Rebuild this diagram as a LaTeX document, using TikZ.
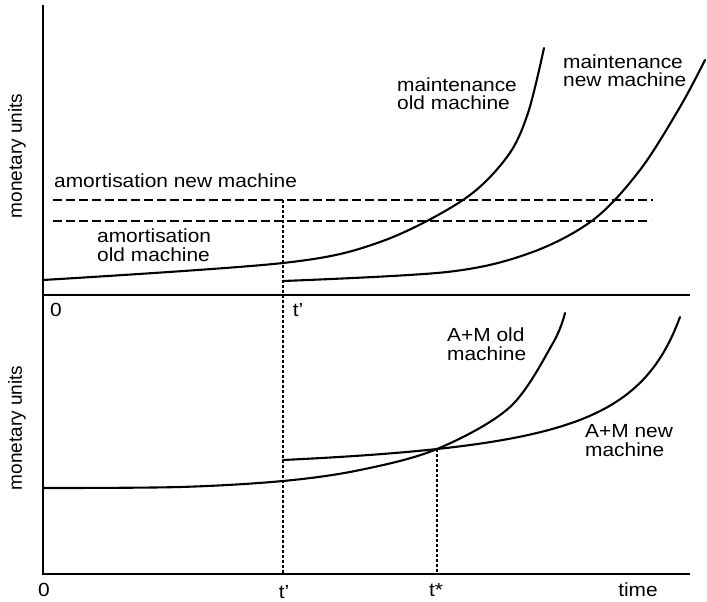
\documentclass[tikz,border=0pt]{standalone}
\usepackage{fontspec}
\setmainfont{Liberation Sans}[FakeStretch=1.1]
\newfontfamily\vfont{Liberation Sans}
\begin{document}
\begin{tikzpicture}[x=1pt,y=-1pt,
  axis/.style={line width=2.1pt},
  curve/.style={line width=2.1pt, line join=round, line cap=round},
  amort/.style={line width=2.1pt, dash pattern=on 9pt off 4pt},
  guide/.style={line width=1.8pt, dash pattern=on 3pt off 2pt},
  lbl/.style={font=\fontsize{19}{18.5}\selectfont, inner sep=0pt, align=left, anchor=base west},
  tick/.style={font=\fontsize{19}{19}\selectfont, inner sep=0pt, anchor=base},
  ylbl/.style={font=\vfont\fontsize{19}{19}\selectfont, rotate=90, inner sep=0pt}]
\useasboundingbox (0,0) rectangle (707,602);

% axes
\coordinate (ytop) at (43,5);
\coordinate (o1) at (43,295);
\coordinate (x1) at (690,295);
\coordinate (o2) at (43,574);
\coordinate (x2) at (690,574);
\draw[axis] (ytop) -- (o2) -- (x2);
\draw[axis] (o1) -- (x1);

% amortisation levels
\coordinate (an0) at (53,200);  \coordinate (an1) at (653,200);
\coordinate (ao0) at (53,221);  \coordinate (ao1) at (651,221);
\draw[amort] (an0) -- (an1);
\draw[amort] (ao0) -- (ao1);

% maintenance curves
\draw[curve] plot[smooth, tension=0.55] coordinates {(43,280) (283,263) (380,242) (463,200) (507,157) (528,113) (544,48)};
\draw[curve] plot[smooth, tension=0.55] coordinates {(283,281) (447,272) (530,253) (593,220) (640,170) (680,107) (705,60)};

% A+M curves
\coordinate (amn0) at (283,460);
\draw[curve] plot[smooth, tension=0.55] coordinates {(43,488) (180,487) (283,481) (360,470) (437,449) (510,407) (553,343) (565,313)};
\draw[curve] (amn0) -- plot[domain=283:680, samples=120] (\x, {460 - (9877/(740-\x) - 21.61)});

% guide lines
\coordinate (tstar) at (437,449);
\coordinate (tp0) at (283,200);
\coordinate (tp1) at (283,574);
\coordinate (ts1) at (437,574);
\draw[guide] (tp0) -- (tp1);
\draw[guide] (tstar) -- (ts1);

% labels
\node[lbl] (lan) at (54,187) {amortisation new machine};
\node[lbl] (lao) at (97,261) {amortisation\\old machine};
\node[lbl] (lmo) at (397,110) {maintenance\\old machine};
\node[lbl] (lmn) at (563,87) {maintenance\\new machine};
\node[lbl] (lamo) at (447,360) {A+M old\\machine};
\node[lbl] (lamn) at (585,456) {A+M new\\machine};
\node[ylbl] (y1) at (17,156) {monetary units};
\node[ylbl] (y2) at (17,428) {monetary units};

\node[tick] (z1) at (56,316) {0};
\node[tick] (t1) at (298,316) {t'};
\node[tick] (z2) at (44,596) {0};
\node[tick] (t2) at (284,598) {t'};
\node[tick] (t3) at (436,596) {t*};
\node[tick] (tm) at (638,596) {time};
\end{tikzpicture}
\end{document}
